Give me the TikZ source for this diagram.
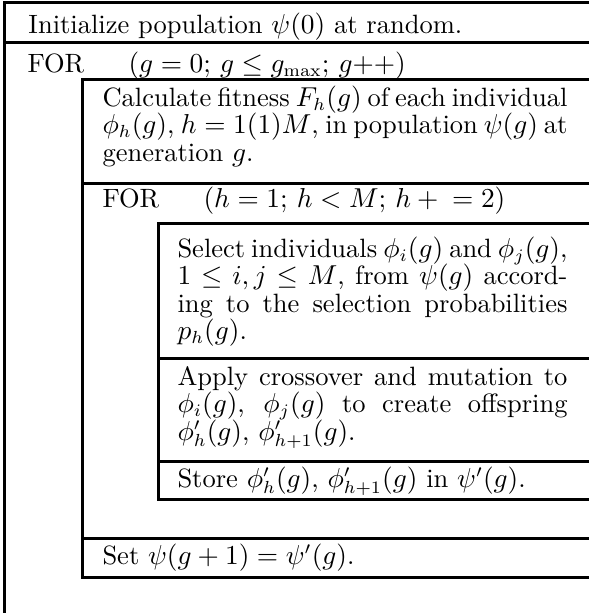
\documentclass[tikz,border=0pt]{standalone}
\usepackage{amsmath,amssymb}
\usepackage{tikz}
\usetikzlibrary{positioning}
\newcommand{\cellfont}{\fontsize{10.6}{11}\selectfont\lineskiplimit=-100pt\relax}
\tikzset{
  rule/.style={line width=1.2pt},
  txt/.style={anchor=base west,inner sep=0pt,font=\cellfont},
  parB/.style={txt,text width=186pt,align=justify},
  parC/.style={txt,text width=156pt,align=justify},
}

\begin{document}
\begin{tikzpicture}[x=0.4pt,y=-0.4pt]
\useasboundingbox (0,0) rectangle (589,613);
% outer block
\draw[rule] (589,2.5) -- (4.5,2.5) -- (4.5,613);
\draw[rule] (4.5,42.5) -- (589,42.5);
% FOR g block
\draw[rule] (589,79) -- (82,79) -- (82,577) -- (589,577);
\draw[rule] (82,183.5) -- (589,183.5);
\draw[rule] (82,538) -- (589,538);
% FOR h block
\draw[rule] (589,223) -- (158,223) -- (158,499) -- (589,499);
\draw[rule] (158,358) -- (589,358);
\draw[rule] (158,461) -- (589,461);

\node[txt] (init) at (28,33) {Initialize population $\psi(0)$ at random.};
\node[txt] (forg) at (27,72) {FOR};
\node[txt] (forgc) at (128,72) {$(g=0;\,g\le g_{\max};\,g{+}{+})$};
\node[parB] (calc) at (102,106) {Calculate fitness $F_h(g)$ of each individual\linebreak
  $\phi_h(g)$, $h=1(1)M$, in population $\psi(g)$ at\linebreak generation $g$.};
\node[txt] (forh) at (102,207) {FOR};
\node[txt] (forhc) at (203,207) {$(h=1;\,h<M;\,h+{}=2)$};
\node[parC] (sel) at (177,257) {Select individuals $\phi_i(g)$ and $\phi_j(g)$,\linebreak
  $1\le i,j\le M$, from $\psi(g)$ accord-\linebreak ing to the selection probabilities\linebreak $p_h(g)$.};
\node[parC] (cross) at (177,385) {Apply crossover and mutation to\linebreak
  $\phi_i(g)$, $\phi_j(g)$ to create offspring\linebreak $\phi'_h(g)$, $\phi'_{h+1}(g)$.};
\node[txt] (store) at (177,487) {Store $\phi'_h(g)$, $\phi'_{h+1}(g)$ in $\psi'(g)$.};
\node[txt] (setp) at (102,564) {Set $\psi(g+1)=\psi'(g)$.};
\end{tikzpicture}
\end{document}
